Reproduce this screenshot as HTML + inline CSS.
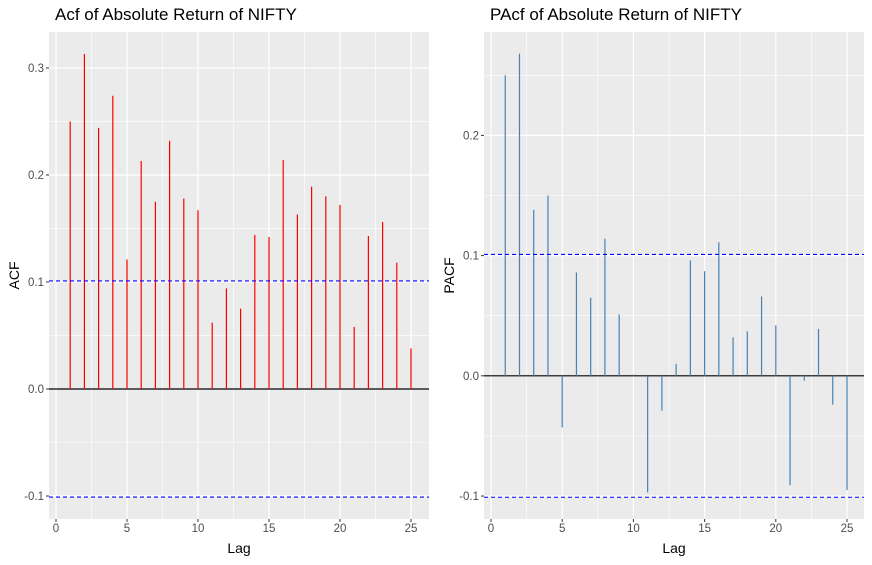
<!DOCTYPE html>
<html><head><meta charset="utf-8"><style>
body{margin:0;background:#fff;font-family:"Liberation Sans",sans-serif;}
svg{display:block}
</style></head><body>
<svg id="c" width="872" height="565" xmlns="http://www.w3.org/2000/svg"></svg>
<script>
const lags=[1,2,3,4,5,6,7,8,9,10,11,12,13,14,15,16,17,18,19,20,21,22,23,24,25];
const acfValues=[0.250,0.313,0.244,0.274,0.121,0.213,0.175,0.232,0.178,0.167,0.062,0.094,0.075,0.144,0.142,0.214,0.163,0.189,0.180,0.172,0.058,0.143,0.156,0.118,0.038];
const pacfValues=[0.250,0.268,0.138,0.150,-0.043,0.086,0.065,0.114,0.051,0.001,-0.097,-0.029,0.010,0.096,0.087,0.111,0.032,0.037,0.066,0.042,-0.091,-0.004,0.039,-0.024,-0.095];
const ciLimit=0.101;
const xTicks=[0,5,10,15,20,25];
const acfYTicks=[-0.1,0.0,0.1,0.2,0.3];
const pacfYTicks=[-0.1,0.0,0.1,0.2];

const svg=document.getElementById('c');
const NS='http://www.w3.org/2000/svg';
function mk(tag,attrs,parent,text){const e=document.createElementNS(NS,tag);for(const k in attrs)e.setAttribute(k,attrs[k]);if(text!==undefined)e.textContent=text;(parent||svg).appendChild(e);return e;}

function panel(opt){
  const g=mk('g',{});
  
  
  const {x0,x1,y0,y1,ymin,ymax}=opt;
  const xScale=v=>opt.lx0+(v/25)*(opt.lx25-opt.lx0);
  const yScale=v=>y1-(v-ymin)/(ymax-ymin)*(y1-y0);
  const bg=mk('rect',{x:x0,y:y0,width:x1-x0,height:y1-y0,fill:'#EBEBEB'},g);
  
  
  for(let i=0;i<xTicks.length-1;i++){const v=(xTicks[i]+xTicks[i+1])/2;mk('line',{x1:xScale(v),x2:xScale(v),y1:y0,y2:y1,stroke:'#fff','stroke-width':0.6},g);}
  const yt=opt.yTicks;
  const minorY=[];
  for(let i=0;i<yt.length-1;i++)minorY.push((yt[i]+yt[i+1])/2);
  minorY.push(yt[yt.length-1]+0.05);
  minorY.forEach(v=>{const y=yScale(v);if(y>y0&&y<y1)mk('line',{x1:x0,x2:x1,y1:y,y2:y,stroke:'#fff','stroke-width':0.6},g);});
  xTicks.forEach(v=>{mk('line',{x1:xScale(v),x2:xScale(v),y1:y0,y2:y1,stroke:'#fff','stroke-width':1.2},g);
    mk('line',{x1:xScale(v),x2:xScale(v),y1:y1,y2:y1+3,stroke:'#333','stroke-width':1},g);
    const t=mk('text',{x:xScale(v),y:y1+13,'font-size':11.5,fill:'#4D4D4D','text-anchor':'middle'},g,String(v));
    
    });
  yt.forEach(v=>{const y=yScale(v);mk('line',{x1:x0,x2:x1,y1:y,y2:y,stroke:'#fff','stroke-width':1.2},g);
    mk('line',{x1:x0-3,x2:x0,y1:y,y2:y,stroke:'#333','stroke-width':1},g);
    const t=mk('text',{x:x0-5,y:y+4,'font-size':11.5,fill:'#4D4D4D','text-anchor':'end'},g,v.toFixed(1));
    
    });
  mk('line',{x1:x0,x2:x1,y1:yScale(0),y2:yScale(0),stroke:'#000','stroke-width':1.2},g);
  opt.lags.forEach((l,i)=>{const b=mk('line',{x1:xScale(l),x2:xScale(l),y1:yScale(0),y2:yScale(opt.values[i]),stroke:opt.color,'stroke-width':1.2},g);
    
    });
  [ciLimit,-ciLimit].forEach(v=>{const c=mk('line',{x1:x0,x2:x1,y1:yScale(v),y2:yScale(v),stroke:'#0000FF','stroke-width':1.1,'stroke-dasharray':'4,3'},g);
    
    });
  const tt=mk('text',{x:x0+6,y:20,'font-size':17,fill:'#000'},g,opt.title);
  
  
  const xt=mk('text',{x:(x0+x1)/2,y:553,'font-size':14,fill:'#000','text-anchor':'middle'},g,'Lag');
  
  
  const yl=mk('text',{x:opt.ytx,y:(y0+y1)/2,'font-size':14,fill:'#000','text-anchor':'middle',transform:`rotate(-90 ${opt.ytx} ${(y0+y1)/2})`},g,opt.ylabel);
  
  
}
panel({name:'acf-panel',x0:49,x1:429,y0:32,y1:519,ymin:-0.1215,ymax:0.3336,lx0:56,lx25:411,yTicks:acfYTicks,lags:lags,values:acfValues,color:'#FF0000',title:'Acf of Absolute Return of NIFTY',ylabel:'ACF',ytx:19});
panel({name:'pacf-panel',x0:484,x1:864,y0:32,y1:519,ymin:-0.1191,ymax:0.286,lx0:491,lx25:847,yTicks:pacfYTicks,lags:lags,values:pacfValues,color:'#4682B4',title:'PAcf of Absolute Return of NIFTY',ylabel:'PACF',ytx:454});
</script>
</body></html>
